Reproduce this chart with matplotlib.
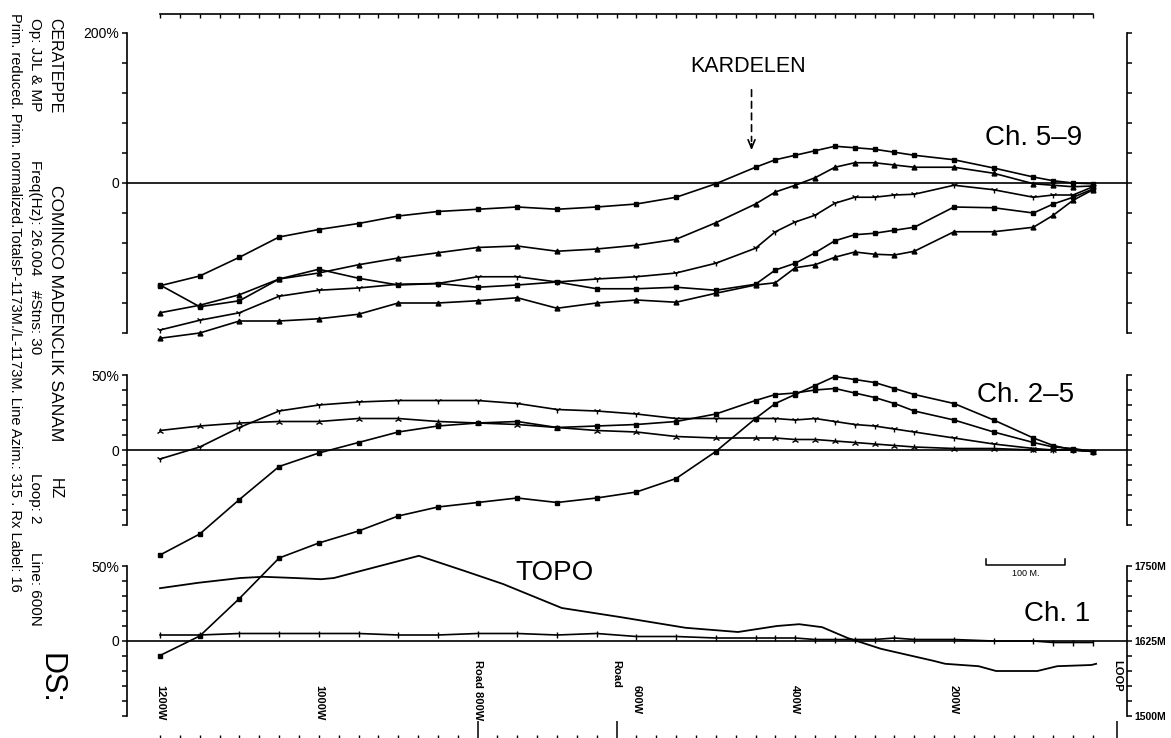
import matplotlib
matplotlib.use("Agg")
import matplotlib.pyplot as plt
from matplotlib.transforms import blended_transform_factory

# =============================================================================
# DATA
# =============================================================================

STATIONS = [1200, 1150, 1100, 1050, 1000, 950, 900, 850, 800, 750, 700, 650,
            600, 550, 500, 450, 425, 400, 375, 350, 325, 300, 275, 250,
            200, 150, 100, 75, 50, 25]

# Ch. 5 shows up in both the "Ch. 5-9" and the "Ch. 2-5" panels
CH5 = [-137, -124, -99, -72, -62, -54, -44, -38, -35, -32, -35, -32,
       -28, -19, -1, 21, 31, 37, 43, 49, 47, 45, 41, 37,
       31, 20, 8, 3, 0, -1]
CH6 = [-173, -163, -149, -128, -120, -109, -100, -93, -86, -84, -91, -88,
       -83, -75, -53, -28, -12, -3, 7, 21, 27, 27, 24, 21,
       21, 13, -1, -3, -5, -4]
CH7 = [-196, -183, -173, -151, -143, -140, -135, -134, -125, -125, -132, -128,
       -125, -120, -107, -87, -65, -52, -43, -27, -19, -19, -16, -15,
       -3, -9, -19, -16, -16, -5]
CH8 = [-136, -165, -157, -128, -115, -127, -136, -134, -139, -136, -132, -141,
       -141, -139, -143, -135, -116, -107, -93, -77, -69, -67, -63, -59,
       -32, -33, -40, -28, -19, -8]
CH9 = [-207, -200, -184, -184, -181, -175, -160, -160, -157, -153, -167, -160,
       -156, -159, -147, -136, -133, -113, -109, -99, -92, -95, -96, -91,
       -65, -65, -59, -43, -23, -9]

CH2 = [-6, 2, 15, 26, 30, 32, 33, 33, 33, 31, 27, 26,
       24, 21, 21, 21, 21, 20, 21, 19, 17, 16, 14, 12,
       8, 4, 1, 0, 0, -1]
CH3 = [13, 16, 18, 19, 19, 21, 21, 19, 18, 17, 15, 13,
       12, 9, 8, 8, 8, 7, 7, 6, 5, 4, 3, 2,
       1, 1, 0, 0, 0, -1]
CH4 = [-70, -56, -33, -11, -2, 5, 12, 16, 18, 19, 15, 16,
       17, 19, 24, 33, 37, 38, 40, 41, 38, 35, 31, 26,
       20, 12, 5, 2, 1, -1]

CH1 = [4, 4, 5, 5, 5, 5, 4, 4, 5, 5, 4, 5,
       3, 3, 2, 2, 2, 2, 1, 1, 1, 1, 2, 1,
       1, 0, 0, -1, -1, -1]

TOPO_STN = [1200, 1152, 1099, 1070, 1030, 997, 981, 932, 874, 817, 768, 694,
            621, 538, 472, 423, 395, 366, 334, 292, 226, 211, 190, 169,
            147, 95, 70, 27, 21]
TOPO_ELEV = [1713, 1722, 1730, 1732, 1730, 1728, 1730, 1747, 1767, 1742, 1720, 1680,
             1665, 1647, 1640, 1650, 1653, 1648, 1630, 1612, 1592, 1587, 1585, 1583,
             1575, 1575, 1583, 1585, 1587]

GRID_STN = list(range(25, 1201, 25))
MARK_STN = [800, 625, -5]
STN_LABELS = ["1200W", "1000W", "Road 800W", "Road", "600W", "400W", "200W", "LOOP"]
STN_LABEL_POS = [1200, 1000, 800, 625, 600, 400, 200, -5]

P1_TICKS = [-200, -160, -120, -80, -40, 0, 40, 80, 120, 160, 200]
P2_TICKS = [-50, -40, -30, -20, -10, 0, 10, 20, 30, 40, 50]
ELEV_TICKS = [1500, 1525, 1550, 1575, 1600, 1625, 1650, 1675, 1700, 1725, 1750]

# =============================================================================
# LAYOUT (pixel geometry of the scan)
# =============================================================================

W, H = 1171, 738
XLIM = (1241.6, -17.9)
SANS = ["Liberation Sans", "DejaVu Sans"]

plt.rcParams["font.family"] = SANS
plt.rcParams["axes.linewidth"] = 1.2


def box(x0, y0, x1, y1):
    return [x0 / W, 1 - y1 / H, (x1 - x0) / W, (y1 - y0) / H]


def panel(fig, rect, ylim, ticks, top_label, right=True):
    ax = fig.add_axes(box(*rect))
    ax.set_xlim(XLIM)
    ax.set_ylim(ylim)
    ax.patch.set_alpha(0)
    ax.spines["top"].set_visible(False)
    ax.spines["bottom"].set_visible(False)
    if not right:
        ax.spines["right"].set_visible(False)
    ax.tick_params(axis="x", bottom=False, labelbottom=False)
    ax.set_yticks(ticks)
    ax.set_yticklabels([top_label if t == ticks[-1] else ("0" if t == 0 else "")
                        for t in ticks], fontsize=10)
    ax.tick_params(axis="y", direction="out", length=3.5, width=1.1,
                   right=right, pad=2)
    ax.axhline(0, color="k", lw=1.2)
    return ax


def curve(ax, y, marker, ms=3.5):
    ax.plot(STATIONS, y, color="k", lw=1.2, marker=marker, ms=ms, mew=1.0,
            clip_on=False)


fig = plt.figure(figsize=(W / 100, H / 100), dpi=100)

# ── Ch. 5-9 ──────────────────────────────────────────────────────────────────
ax1 = panel(fig, (127, 33, 1127, 333), (-200, 200), P1_TICKS, "200%")
curve(ax1, CH5, "s")
curve(ax1, CH6, "^")
curve(ax1, CH7, "1", ms=5)
curve(ax1, CH8, "s")
curve(ax1, CH9, "^")
ax1.text(100, 60, "Ch. 5–9", fontsize=20, ha="center", va="center")
ax1.text(460, 155, "KARDELEN", fontsize=15.5, ha="center", va="center")
ax1.annotate("", xy=(455, 52), xytext=(455, 128),
             arrowprops=dict(arrowstyle="-", ls=(0, (4, 3)), lw=1.2, color="k"))
ax1.annotate("", xy=(455, 40), xytext=(455, 56),
             arrowprops=dict(arrowstyle="->,head_length=0.6,head_width=0.25",
                             lw=1.2, color="k"))

# ── Ch. 2-5 ──────────────────────────────────────────────────────────────────
ax2 = panel(fig, (127, 375, 1127, 525), (-50, 50), P2_TICKS, "50%")
curve(ax2, CH2, "1", ms=5)
curve(ax2, CH3, "2", ms=5)
curve(ax2, CH4, "s")
curve(ax2, CH5, "s")
ax2.text(110, 37, "Ch. 2–5", fontsize=20, ha="center", va="center")

# ── Ch. 1 + topography ───────────────────────────────────────────────────────
ax3 = panel(fig, (127, 566, 1127, 716), (-50, 50), P2_TICKS, "50%", right=False)
curve(ax3, CH1, "|", ms=4)
ax3.text(70, 18, "Ch. 1", fontsize=20, ha="center", va="center")
ax3.text(703, 45, "TOPO", fontsize=20, ha="center", va="center")

ax3t = ax3.twinx()
ax3t.set_xlim(XLIM)
ax3t.set_ylim(1500, 1750)
for side in ("top", "bottom", "left"):
    ax3t.spines[side].set_visible(False)
ax3t.set_yticks(ELEV_TICKS)
ax3t.set_yticklabels([f"{t}M" if t in (1500, 1625, 1750) else "" for t in ELEV_TICKS],
                     fontsize=7.5, fontweight="bold")
ax3t.tick_params(axis="y", direction="out", length=3.5, width=1.1, pad=2)
ax3t.plot(TOPO_STN, TOPO_ELEV, color="k", lw=1.3, clip_on=False)

# scale bar
ax3.plot([160, 160, 60, 60], [55, 51, 51, 55], color="k", lw=1.1, clip_on=False)
ax3.text(110, 45, "100 M.", fontsize=6.5, ha="center", va="center")

# ── station axes (top and bottom) ────────────────────────────────────────────
ax_top = fig.add_axes(box(127, 14, 1127, 30))
ax_top.set_xlim(XLIM)
ax_top.patch.set_alpha(0)
for side in ("bottom", "left", "right"):
    ax_top.spines[side].set_visible(False)
ax_top.spines["top"].set_bounds(25, 1200)
ax_top.set_xticks(GRID_STN)
ax_top.set_yticks([])
ax_top.tick_params(axis="x", top=True, bottom=False, labeltop=False,
                   labelbottom=False, direction="in", length=3, width=1)

ax_bot = fig.add_axes(box(127, 700, 1127, 738))
ax_bot.set_xlim(XLIM)
ax_bot.patch.set_alpha(0)
for side in ("top", "bottom", "left", "right"):
    ax_bot.spines[side].set_visible(False)
ax_bot.set_xticks(MARK_STN)
ax_bot.set_xticks(GRID_STN, minor=True)
ax_bot.set_yticks([])
ax_bot.tick_params(axis="x", which="major", direction="in", length=12.5,
                   width=1.1, labelbottom=False)
ax_bot.tick_params(axis="x", which="minor", direction="in", length=2.5,
                   width=1.0, labelbottom=False)

tr = blended_transform_factory(ax_bot.transData, fig.transFigure)
for lab, s in zip(STN_LABELS, STN_LABEL_POS):
    top_px = 660 if lab.startswith("Road") or lab == "LOOP" else 685
    ax_bot.text(s, 1 - top_px / H, lab, transform=tr, rotation=270,
                ha="center", va="top", fontsize=8, fontweight="bold")

# ── header text down the left margin ─────────────────────────────────────────
HEADER = [
    ("CERATEPPE", 55, 18, 11.5), ("COMINCO MADENCLIK SANAM", 55, 185, 12.5),
    ("HZ", 55, 478, 11.5),
    ("Op: JJL & MP", 35, 18, 11), ("Freq(Hz): 26.004", 35, 160, 11),
    ("#Stns: 30", 35, 290, 11), ("Loop: 2", 35, 473, 11),
    ("Line: 600N", 35, 552, 11),
    ("Prim. reduced. Prim. normalized.TotalsP-1173M./L-1173M. "
     "Line Azim.: 315 . Rx Label: 16", 15, 13, 10.5),
]
for txt, x, y, fs in HEADER:
    fig.text(x / W, 1 - y / H, txt, rotation=270, ha="center", va="top",
             fontsize=fs)
fig.text(50 / W, 1 - 653 / H, "DS:", rotation=270, ha="center", va="top",
         fontsize=22, fontweight="light")

fig.savefig("out.png", dpi=100)
